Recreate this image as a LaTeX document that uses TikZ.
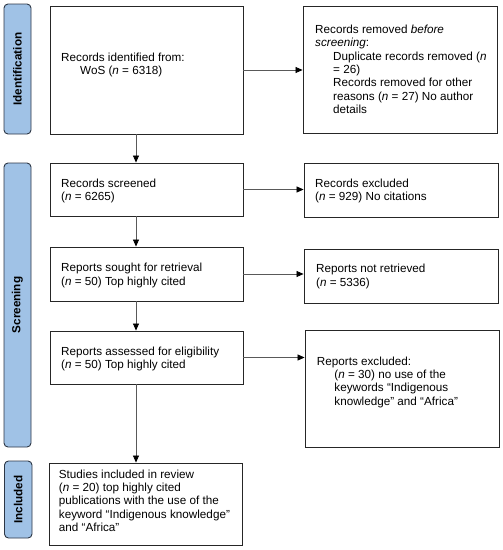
\documentclass[tikz,border=0pt]{standalone}
\usepackage{fontspec}
\setmainfont{Liberation Sans}
\usetikzlibrary{arrows.meta}
\definecolor{lblue}{RGB}{160,194,230}
\definecolor{lborder}{RGB}{45,55,70}
\begin{document}
\begin{tikzpicture}[x=1pt,y=-1pt,
  box/.style={draw=black!85, line width=0.9pt, inner sep=0pt},
  txt/.style={anchor=base west, align=left, inner sep=0pt, font=\fontsize{11.7}{13.4}\selectfont},
  side/.style={draw=lborder, line width=0.9pt, fill=lblue, rounded corners=4pt, inner sep=0pt, rotate=90, font=\bfseries\fontsize{11.7}{13}\selectfont},
  arr/.style={draw=black!65, line width=0.7pt, -{Triangle[length=7pt,width=6pt,color=black]}}
]
\useasboundingbox (0,0) rectangle (503,550);
% side labels
\node[side, minimum width=130pt, minimum height=27pt] (s1) at (17.5,69) {Identification};
\node[side, minimum width=284pt, minimum height=27pt] (s2) at (17.5,305) {Screening};
\node[side, minimum width=77pt, minimum height=27.5pt] (s3) at (18.25,499.5) {Included};
% left boxes
\node[box, minimum width=193pt, minimum height=128pt] (b1) at (146.5,70) {};
\node[box, minimum width=193pt, minimum height=53pt] (b2) at (146.5,189.5) {};
\node[box, minimum width=193pt, minimum height=54pt] (b3) at (146.5,274) {};
\node[box, minimum width=193pt, minimum height=53pt] (b4) at (146.5,357.5) {};
\node[box, minimum width=193pt, minimum height=82pt] (b5) at (145.5,504) {};
% right boxes
\node[box, minimum width=194pt, minimum height=127pt] (r1) at (400,69.5) {};
\node[box, minimum width=194pt, minimum height=54pt] (r2) at (401,190) {};
\node[box, minimum width=194pt, minimum height=54pt] (r3) at (401,276) {};
\node[box, minimum width=194pt, minimum height=117pt] (r4) at (402,388.5) {};
% texts (anchored at the baseline of their last line)
\node[txt] (t1) at (61,74.4) {Records identified from:\\\hspace*{19pt}WoS (\textit{n} = 6318)};
\node[txt] (t2) at (61,200.7) {Records screened\\(\textit{n} = 6265)};
\node[txt] (t3) at (61,285.1) {Reports sought for retrieval\\(\textit{n} = 50) Top highly cited};
\node[txt] (t4) at (61,368.4) {Reports assessed for eligibility\\(\textit{n} = 50) Top highly cited};
\node[txt] (t5) at (58.7,531.6) {Studies included in review\\(\textit{n} = 20) top highly cited\\publications with the use of the\\keyword “Indigenous knowledge”\\and “Africa”};
\node[txt] (u1) at (315,113.7) {Records removed \textit{before}\\\textit{screening}:\\\hspace*{18pt}Duplicate records removed (\textit{n}\\\hspace*{18pt}= 26)\\\hspace*{18pt}Records removed for other\\\hspace*{18pt}reasons (\textit{n} = 27) No author\\\hspace*{18pt}details};
\node[txt] (u2) at (315,200.4) {Records excluded\\(\textit{n} = 929) No citations};
\node[txt] (u3) at (316,286.1) {Reports not retrieved\\(\textit{n} = 5336)};
\node[txt] (u4) at (316.7,405.2) {Reports excluded:\\\hspace*{17.5pt}(\textit{n} = 30) no use of the\\\hspace*{17.5pt}keywords “Indigenous\\\hspace*{17.5pt}knowledge” and “Africa”};
% arrows
\coordinate (ax) at (136,0);
\draw[arr] (b1.south -| ax) -- (b2.north -| ax);
\draw[arr] (b2.south -| ax) -- (b3.north -| ax);
\draw[arr] (b3.south -| ax) -- (b4.north -| ax);
\draw[arr] (b4.south -| ax) -- (b5.north -| ax);
\draw[arr] (b1.east) -- (b1.east -| r1.west);
\draw[arr] (b2.east) -- (b2.east -| r2.west);
\draw[arr] (b3.east) -- (b3.east -| r3.west);
\draw[arr] (b4.east) -- (b4.east -| r4.west);
\end{tikzpicture}
\end{document}
